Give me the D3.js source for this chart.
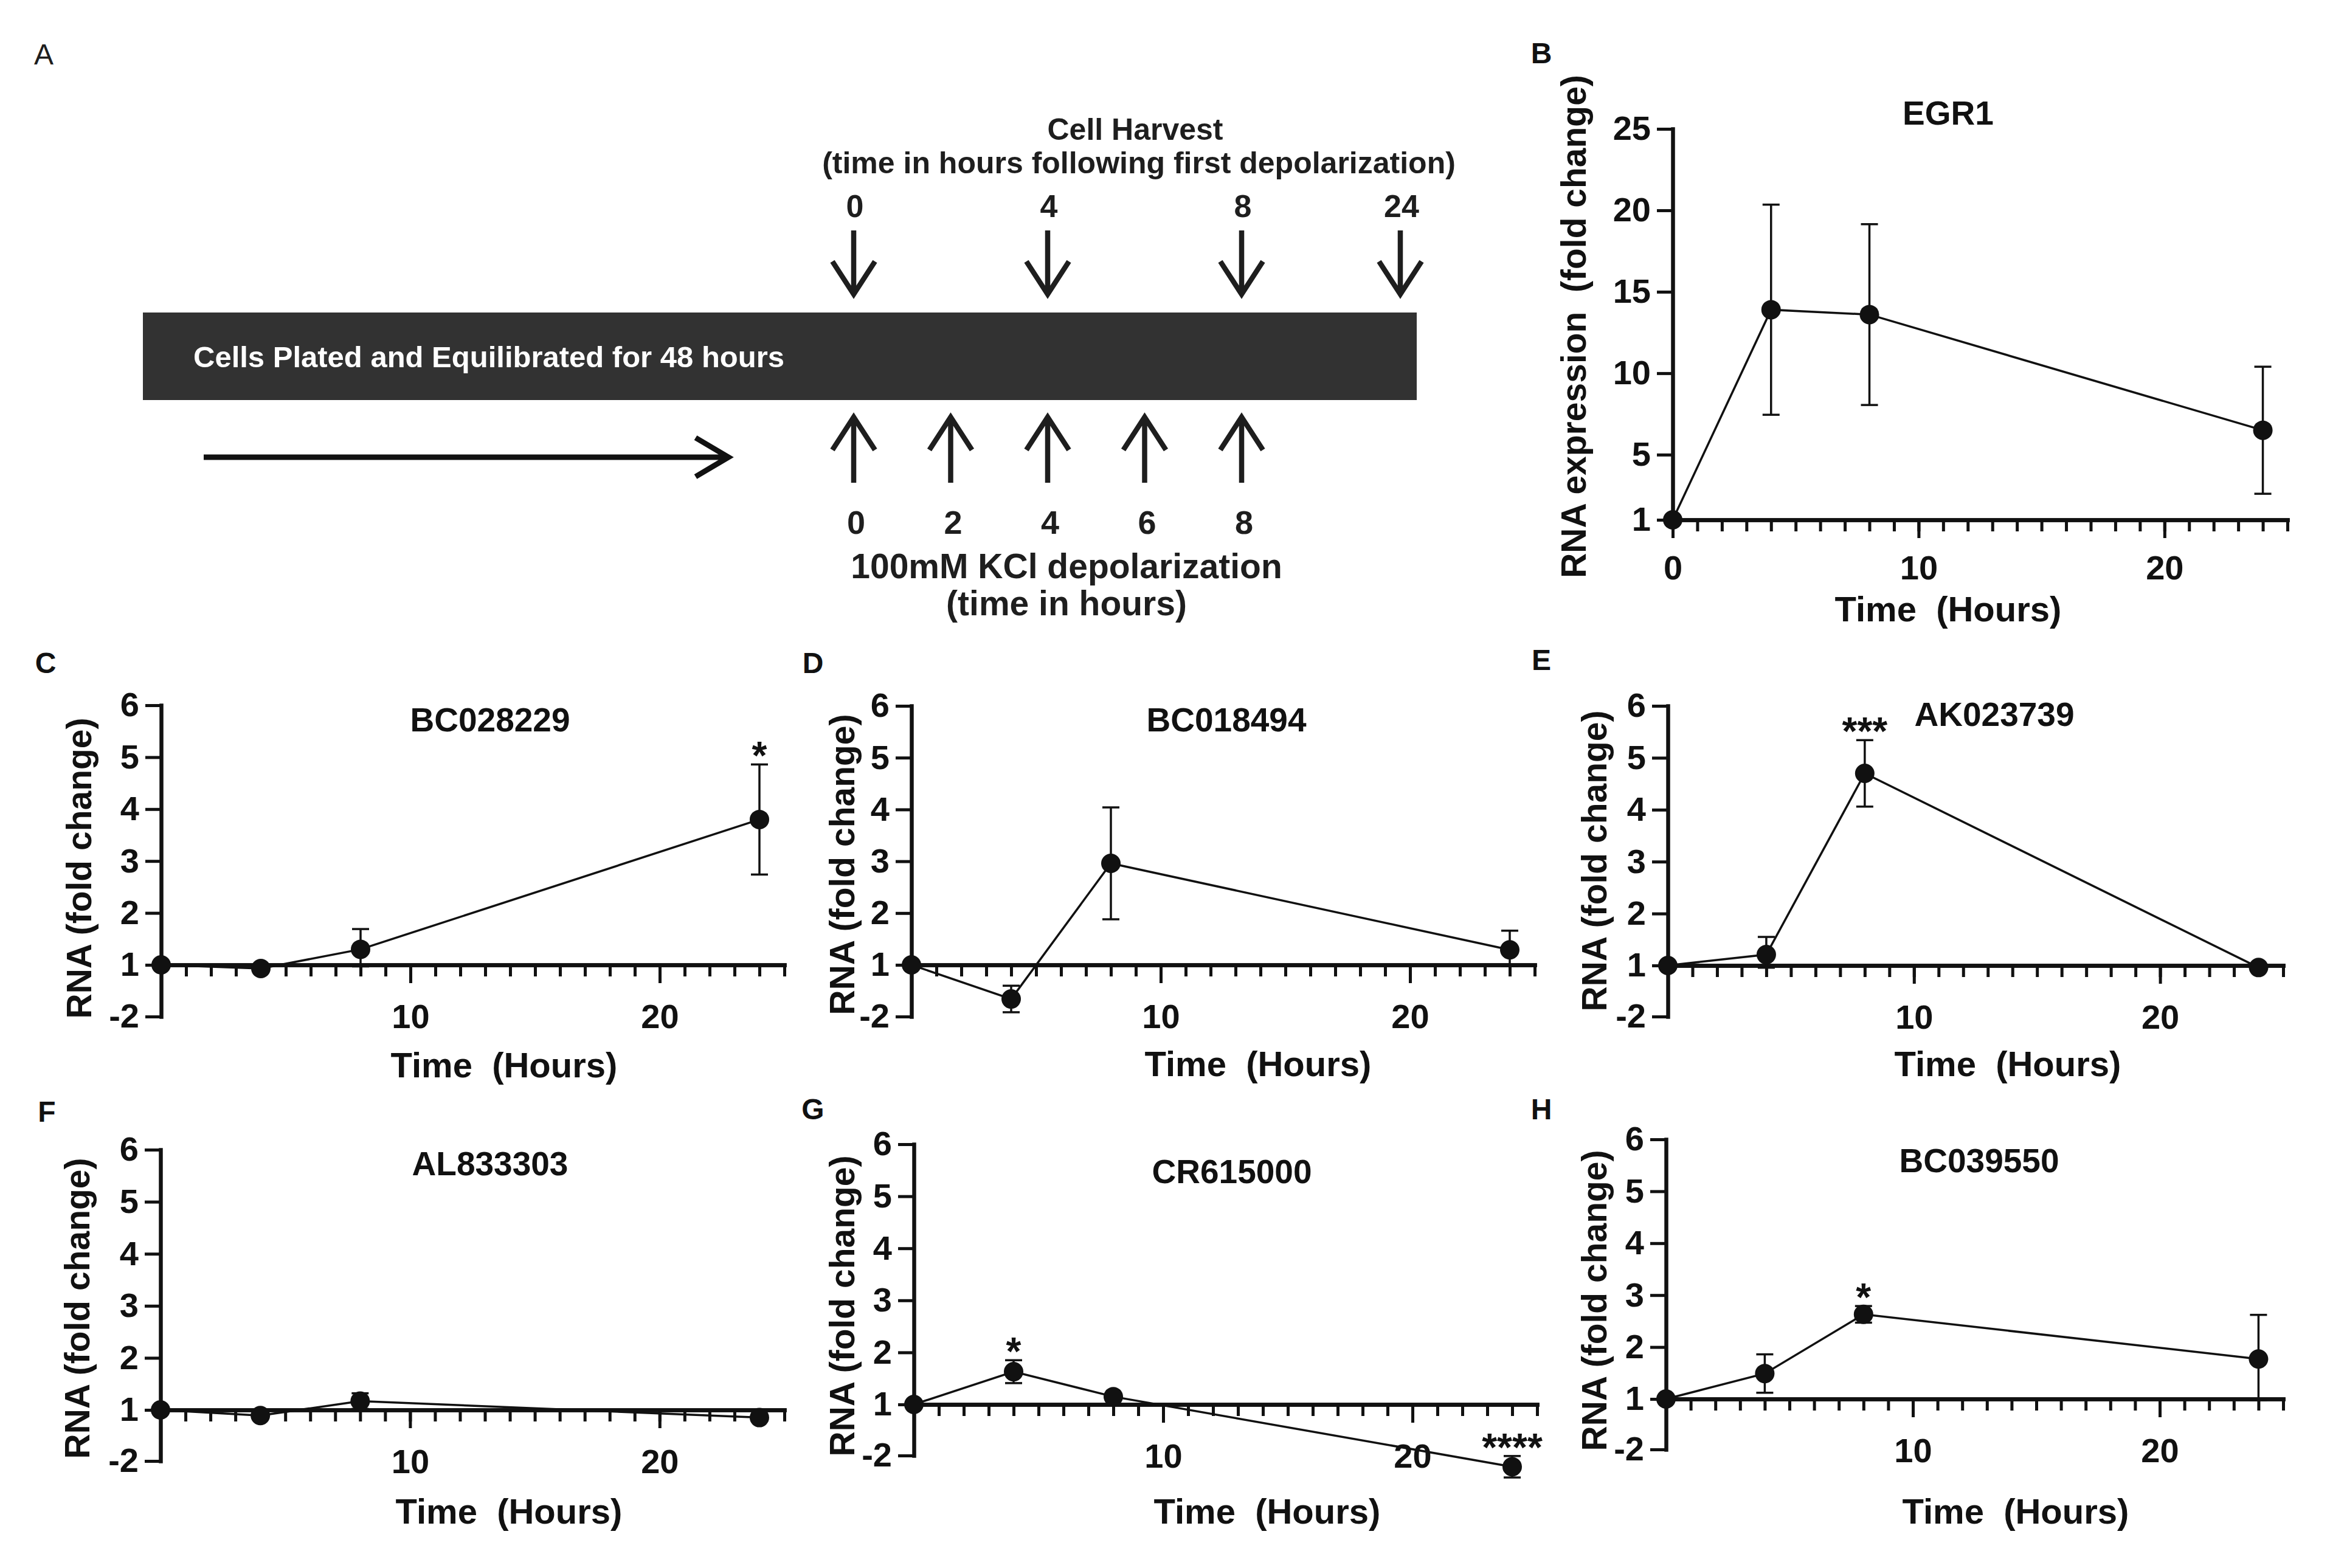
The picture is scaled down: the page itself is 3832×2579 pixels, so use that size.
<!DOCTYPE html>
<html><head><meta charset="utf-8">
<script src="https://cdn.jsdelivr.net/npm/d3@7"></script>
<style>
html,body{margin:0;padding:0;background:#fff;}
svg{display:block;font-family:"Liberation Sans",Arial,Helvetica,sans-serif;}
</style></head><body>
<svg id="fig" width="3832" height="2579"></svg>
<script>
// ---------------- data ----------------
const hours = [0, 4, 8, 24];

const egr1Mean = [1, 13.9, 13.6, 6.5];
const egr1Sem  = [0, 6.45, 5.55, 3.9];
const egr1Sig  = ["", "", "", ""];

const bc028229Mean = [1, 0.79, 1.30, 3.80];
const bc028229Sem  = [0, 0, 0.39, 1.06];
const bc028229Sig  = ["", "", "", "*"];

const bc018494Mean = [1, -0.98, 2.96, 1.29];
const bc018494Sem  = [0, 0.77, 1.08, 0.37];
const bc018494Sig  = ["", "", "", ""];

const ak023739Mean = [1, 1.21, 4.70, 0.88];
const ak023739Sem  = [0, 0.34, 0.64, 0];
const ak023739Sig  = ["", "", "***", ""];

const al833303Mean = [1, 0.67, 1.17, 0.55];
const al833303Sem  = [0, 0, 0.15, 0];
const al833303Sig  = ["", "", "", ""];

const cr615000Mean = [1, 1.63, 1.15, -2.66];
const cr615000Sem  = [0, 0.22, 0.05, 0.63];
const cr615000Sig  = ["", "*", "", "****"];

const bc039550Mean = [1, 1.49, 2.63, 1.77];
const bc039550Sem  = [0, 0.37, 0.16, 0.85];
const bc039550Sig  = ["", "", "*", ""];

const egr1YTicks  = [1, 5, 10, 15, 20, 25];
const smallYTicks = [-2, 1, 2, 3, 4, 5, 6];
const egr1XTicks  = [0, 10, 20];
const smallXTicks = [10, 20];

const harvestTimes = [0, 4, 8, 24];
const depolTimes   = [0, 2, 4, 6, 8];

// ---------------- layout ----------------
const panels = [
  {letter:"B", gene:"EGR1", mean:egr1Mean, sem:egr1Sem, sig:egr1Sig, big:true,
   x0:2751, x25:3762, yTop:212, yOne:855, yBot:855,
   title:[3204,205], xTitle:[3204,1022], yTitle:[2608,537], letterPos:[2535,104],
   yLabel:"RNA expression  (fold change)"},
  {letter:"C", gene:"BC028229", mean:bc028229Mean, sem:bc028229Sem, sig:bc028229Sig,
   x0:265, x25:1290, yTop:1160, yOne:1587, yBot:1672,
   title:[806,1203], xTitle:[829,1772], yTitle:[150,1428], letterPos:[75,1107]},
  {letter:"D", gene:"BC018494", mean:bc018494Mean, sem:bc018494Sem, sig:bc018494Sig,
   x0:1499, x25:2524, yTop:1161, yOne:1587, yBot:1672,
   title:[2017,1203], xTitle:[2069,1770], yTitle:[1405,1422], letterPos:[1337,1107]},
  {letter:"E", gene:"AK023739", mean:ak023739Mean, sem:ak023739Sem, sig:ak023739Sig,
   x0:2743, x25:3755, yTop:1161, yOne:1588, yBot:1672,
   title:[3280,1194], xTitle:[3302,1770], yTitle:[2642,1416], letterPos:[2535,1102]},
  {letter:"F", gene:"AL833303", mean:al833303Mean, sem:al833303Sem, sig:al833303Sig,
   x0:264, x25:1290, yTop:1891, yOne:2319, yBot:2403,
   title:[806,1933], xTitle:[837,2506], yTitle:[147,2152], letterPos:[77,1845]},
  {letter:"G", gene:"CR615000", mean:cr615000Mean, sem:cr615000Sem, sig:cr615000Sig,
   x0:1503, x25:2528, yTop:1882, yOne:2310, yBot:2394,
   title:[2026,1946], xTitle:[2084,2506], yTitle:[1405,2148], letterPos:[1337,1841]},
  {letter:"H", gene:"BC039550", mean:bc039550Mean, sem:bc039550Sem, sig:bc039550Sig,
   x0:2740, x25:3755, yTop:1874, yOne:2301, yBot:2384,
   title:[3255,1928], xTitle:[3315,2506], yTitle:[2642,2139], letterPos:[2535,1841]}
];

const svg = d3.select("#fig");
svg.append("rect").attr("width",3832).attr("height",2579).attr("fill","#fff");

const INK = "#111";

function styleAxis(sel, fs){
  sel.attr("font-size", null).attr("font-family", null);
  sel.select(".domain").attr("stroke", INK).attr("stroke-width", 6.5).attr("stroke-linecap","square");
  sel.selectAll(".tick line").attr("stroke", INK).attr("stroke-width", 5);
  sel.selectAll(".tick text").attr("fill", INK).style("font-size", fs+"px").style("font-weight","bold");
}

function drawPanel(p){
  const g = svg.append("g");
  const x = d3.scaleLinear().domain([0, 25]).range([p.x0, p.x25]);
  const y = p.big
    ? d3.scaleLinear().domain([1, 25]).range([p.yOne, p.yTop])
    : d3.scaleLinear().domain([-2, 1, 6]).range([p.yBot, p.yOne, p.yTop]);

  // x axis: minor ticks every hour
  g.append("g").attr("transform", `translate(0,${y(1)})`)
    .call(d3.axisBottom(x).tickValues(d3.range(1, 26)).tickSize(19).tickSizeOuter(0).tickFormat(""))
    .call(s => styleAxis(s, 56));
  // x axis: major ticks
  g.append("g").attr("transform", `translate(0,${y(1)})`)
    .call(d3.axisBottom(x).tickValues(p.big ? egr1XTicks : smallXTicks).tickSize(30).tickSizeOuter(0).tickPadding(p.big ? 28 : 34).tickFormat(d => String(d)))
    .call(s => styleAxis(s, 56));
  // y axis
  g.append("g").attr("transform", `translate(${p.x0},0)`)
    .call(d3.axisLeft(y).tickValues(p.big ? egr1YTicks : smallYTicks).tickSize(26).tickSizeOuter(0).tickPadding(10).tickFormat(d => String(d)))
    .call(s => styleAxis(s, 56));

  const pts = hours.map((h, i) => ({h, m: p.mean[i], s: p.sem[i], sig: p.sig[i]}));

  // error bars
  const eb = g.append("g").attr("stroke", INK).attr("stroke-width", 3.5).attr("fill","none");
  pts.filter(d => d.s > 0).forEach(d => {
    const cx = x(d.h), yt = y(d.m + d.s), yb = y(d.m - d.s);
    eb.append("line").attr("x1", cx).attr("x2", cx).attr("y1", yt).attr("y2", yb);
    eb.append("line").attr("x1", cx - 14).attr("x2", cx + 14).attr("y1", yt).attr("y2", yt);
    eb.append("line").attr("x1", cx - 14).attr("x2", cx + 14).attr("y1", yb).attr("y2", yb);
  });

  // connecting line
  g.append("path").datum(pts)
    .attr("d", d3.line().x(d => x(d.h)).y(d => y(d.m)))
    .attr("fill", "none").attr("stroke", INK).attr("stroke-width", 3.5);

  // markers
  g.selectAll("circle.pt").data(pts).join("circle")
    .attr("class","pt").attr("cx", d => x(d.h)).attr("cy", d => y(d.m)).attr("r", 16).attr("fill", INK);

  // significance stars
  g.selectAll("text.sig").data(pts.filter(d => d.sig)).join("text")
    .attr("class","sig")
    .attr("x", d => x(d.h)).attr("y", d => y(d.m + d.s) + 8)
    .attr("text-anchor","middle").attr("fill", INK)
    .style("font-size","64px").style("font-weight","bold")
    .text(d => d.sig);

  // titles
  g.append("text").attr("x", p.title[0]).attr("y", p.title[1]).attr("text-anchor","middle")
    .attr("fill", INK).style("font-size","55px").style("font-weight","bold").text(p.gene);
  g.append("text").attr("x", p.xTitle[0]).attr("y", p.xTitle[1]).attr("text-anchor","middle")
    .attr("fill", INK).style("font-size","58px").style("font-weight","bold").style("white-space","pre")
    .attr("xml:space","preserve").text("Time  (Hours)");
  g.append("text").attr("transform", `translate(${p.yTitle[0]},${p.yTitle[1]}) rotate(-90)`)
    .attr("text-anchor","middle").attr("fill", INK).style("font-size","57px").style("font-weight","bold")
    .style("white-space","pre").attr("xml:space","preserve")
    .text(p.yLabel || "RNA (fold change)");
  g.append("text").attr("x", p.letterPos[0]).attr("y", p.letterPos[1]).attr("text-anchor","middle")
    .attr("fill", INK).style("font-size","48px").style("font-weight","bold").text(p.letter);
}

panels.forEach(drawPanel);

// ---------------- panel A : schematic ----------------
const A = svg.append("g");
const DARK = "#1e1e1e";
const sx = d3.scaleLinear().domain([0, 8, 24]).range([1404, 2042, 2303]);

A.append("text").attr("x", 72).attr("y", 106).attr("text-anchor","middle")
  .attr("fill", DARK).style("font-size","48px").text("A");

A.append("rect").attr("x", 235).attr("y", 514).attr("width", 2095).attr("height", 144).attr("fill", "#323232");
A.append("text").attr("x", 318).attr("y", 604).attr("fill", "#fff")
  .style("font-size","49px").style("font-weight","bold").text("Cells Plated and Equilibrated for 48 hours");

A.append("text").attr("x", 1867).attr("y", 230).attr("text-anchor","middle").attr("fill", DARK)
  .style("font-size","50px").style("font-weight","bold").text("Cell Harvest");
A.append("text").attr("x", 1873).attr("y", 285).attr("text-anchor","middle").attr("fill", DARK)
  .style("font-size","50px").style("font-weight","bold").text("(time in hours following first depolarization)");

// harvest arrows (down)
const harvest = A.selectAll("g.h").data(harvestTimes).join("g").attr("class","h");
harvest.append("text").attr("x", d => sx(d) + 2).attr("y", 357).attr("text-anchor","middle").attr("fill", DARK)
  .style("font-size","52px").style("font-weight","bold").text(d => d);
harvest.append("path")
  .attr("d", d => `M${sx(d)},379 V482 M${sx(d)-35},430 L${sx(d)},484 L${sx(d)+35},430`)
  .attr("fill","none").attr("stroke", DARK).attr("stroke-width", 8.5);

// depolarization arrows (up)
const depol = A.selectAll("g.d").data(depolTimes).join("g").attr("class","d");
depol.append("path")
  .attr("d", d => `M${sx(d)},794 V688 M${sx(d)-35},740 L${sx(d)},686 L${sx(d)+35},740`)
  .attr("fill","none").attr("stroke", DARK).attr("stroke-width", 8.5);
depol.append("text").attr("x", d => sx(d) + 4).attr("y", 878).attr("text-anchor","middle").attr("fill", DARK)
  .style("font-size","54px").style("font-weight","bold").text(d => d);

A.append("text").attr("x", 1754).attr("y", 951).attr("text-anchor","middle").attr("fill", DARK)
  .style("font-size","57px").style("font-weight","bold").text("100mM KCl depolarization");
A.append("text").attr("x", 1754).attr("y", 1012).attr("text-anchor","middle").attr("fill", DARK)
  .style("font-size","57px").style("font-weight","bold").text("(time in hours)");

// long horizontal arrow
A.append("path").attr("d", "M335,752 H1194 M1144,720 L1198,752 L1144,784")
  .attr("fill","none").attr("stroke", "#111").attr("stroke-width", 9);
</script>
</body></html>
